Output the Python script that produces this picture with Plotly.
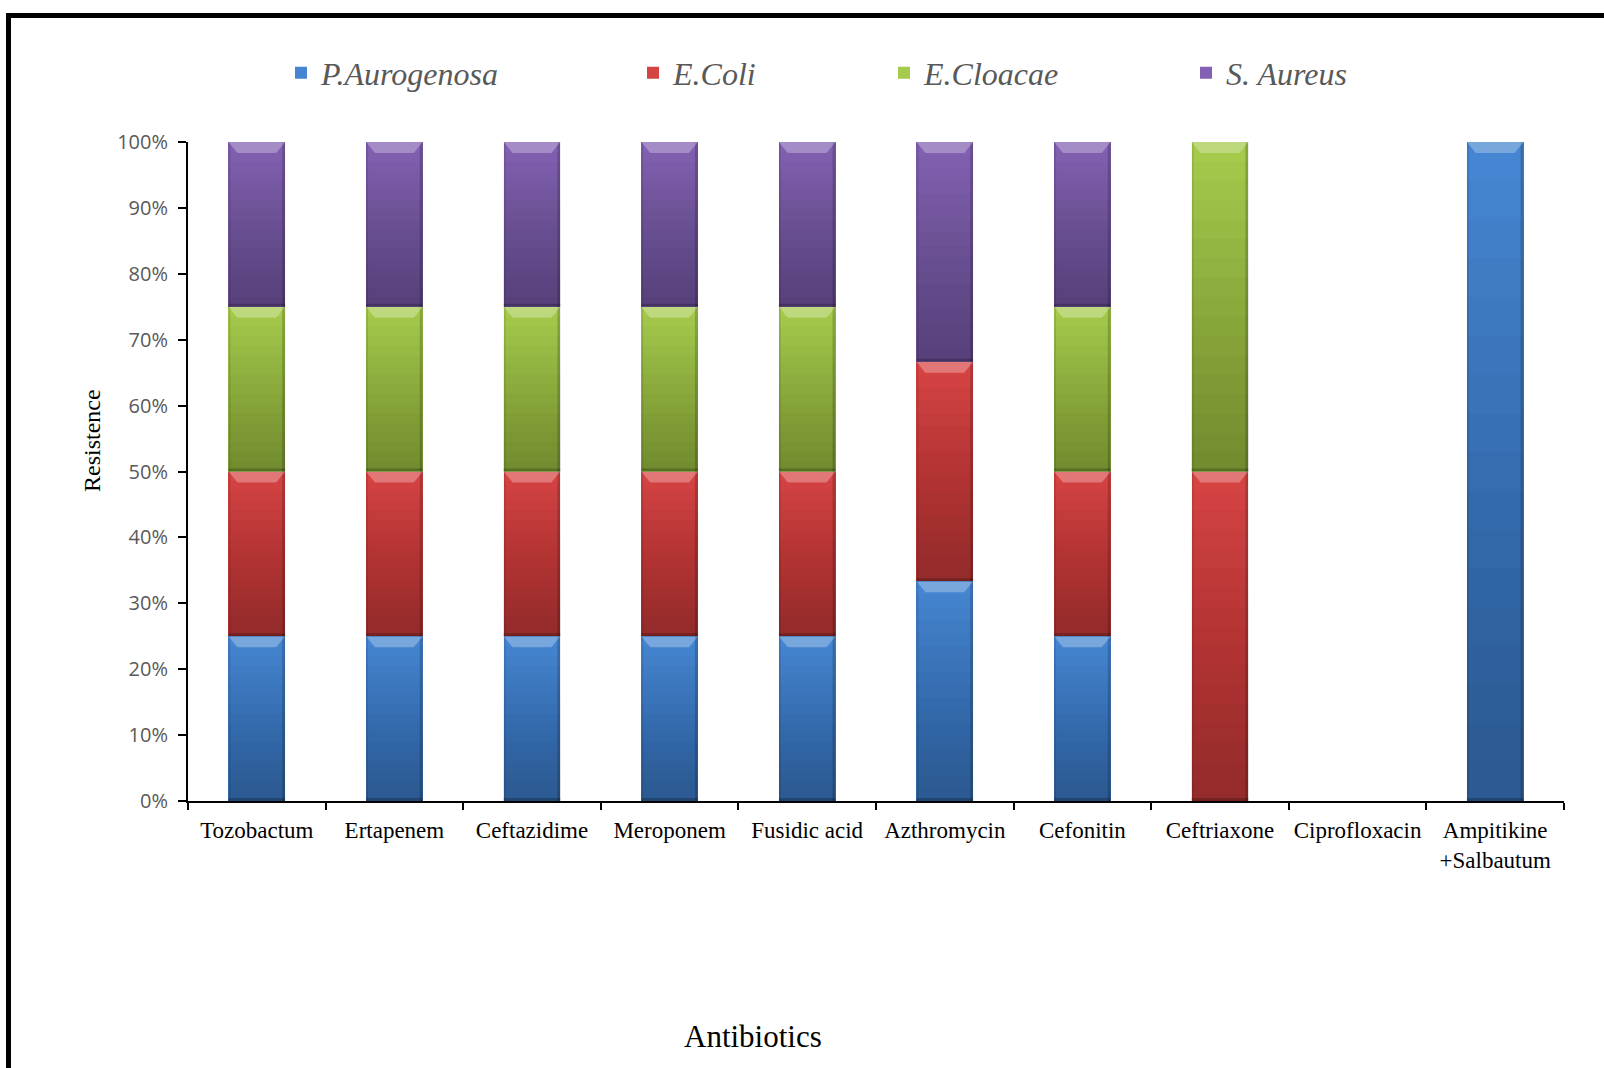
import plotly.graph_objects as go

# Resistance share (%) of each organism for each antibiotic
antibiotics = ["Tozobactum", "Ertapenem", "Ceftazidime", "Meroponem", "Fusidic acid",
               "Azthromycin", "Cefonitin", "Ceftriaxone", "Ciprofloxacin",
               "Ampitikine<br>+Salbautum"]
p_aurogenosa = [25, 25, 25, 25, 25, 33.33, 25, 0, 0, 100]
e_coli = [25, 25, 25, 25, 25, 33.33, 25, 50, 0, 0]
e_cloacae = [25, 25, 25, 25, 25, 0, 25, 50, 0, 0]
s_aureus = [25, 25, 25, 25, 25, 33.34, 25, 0, 0, 0]
series_names = ["P.Aurogenosa", "E.Coli", "E.Cloacae", "S. Aureus"]
y_ticks = [0, 10, 20, 30, 40, 50, 60, 70, 80, 90, 100]

series_values = [p_aurogenosa, e_coli, e_cloacae, s_aureus]
colors = ["#4585D2", "#D64343", "#A6CA4C", "#8260B2"]

W, H = 1604, 1068
ML, MR, MT, MB = 188, 40, 142, 267
PW, PH = W - ML - MR, H - MT - MB
BARGAP = 0.588
half_w = (1 - BARGAP) / 2
px_x = len(antibiotics) / PW          # data units per pixel (x)
px_y = 100 / PH                       # data units per pixel (y)

fig = go.Figure()
legend_ids = ["legend", "legend2", "legend3", "legend4"]
for name, vals, col, lg in zip(series_names, series_values, colors, legend_ids):
    fig.add_trace(go.Bar(
        x=list(range(len(antibiotics))), y=vals, name=name,
        marker=dict(color=col, line=dict(width=0)),
        legend=lg,
    ))

# Bevel-style shading on every stacked segment
shapes = []
base = [0.0] * len(antibiotics)
n_layers = 16
for vals in series_values:
    for i, v in enumerate(vals):
        if v <= 0:
            continue
        y0, y1 = base[i], base[i] + v
        base[i] = y1
        xa, xb = i - half_w, i + half_w
        # vertical darkening toward the bottom of the segment
        for k in range(1, n_layers + 1):
            shapes.append(dict(type="rect", xref="x", yref="y", layer="above",
                               x0=xa, x1=xb, y0=y0, y1=y0 + (y1 - y0) * k / (n_layers + 1),
                               fillcolor="rgba(0,0,0,0.018)", line=dict(width=0)))
        # right edge shade
        shapes.append(dict(type="rect", xref="x", yref="y", layer="above",
                           x0=xb - 3 * px_x, x1=xb, y0=y0, y1=y1,
                           fillcolor="rgba(0,0,0,0.18)", line=dict(width=0)))
        # left edge shade
        shapes.append(dict(type="rect", xref="x", yref="y", layer="above",
                           x0=xa, x1=xa + 2 * px_x, y0=y0, y1=y1,
                           fillcolor="rgba(0,0,0,0.10)", line=dict(width=0)))
        # bottom edge shade
        shapes.append(dict(type="rect", xref="x", yref="y", layer="above",
                           x0=xa, x1=xb, y0=y0, y1=y0 + 3 * px_y,
                           fillcolor="rgba(0,0,0,0.22)", line=dict(width=0)))
        # top highlight trapezoid
        dx, dy = 9 * px_x, 11 * px_y
        path = (f"M {xa} {y1} L {xb} {y1} L {xb - dx} {y1 - dy} "
                f"L {xa + dx} {y1 - dy} Z")
        shapes.append(dict(type="path", xref="x", yref="y", layer="above",
                           path=path, fillcolor="rgba(255,255,255,0.28)",
                           line=dict(width=0)))


def to_paper_x(px):
    return (px - ML) / PW


def to_paper_y(py):
    return (H - MB - py) / PH


# Outer frame
shapes.append(dict(type="rect", xref="paper", yref="paper", layer="above",
                   x0=to_paper_x(8.5), x1=to_paper_x(1640),
                   y0=to_paper_y(1100), y1=to_paper_y(15.5),
                   line=dict(color="black", width=5), fillcolor="rgba(0,0,0,0)"))

legend_font = dict(family="Liberation Serif", size=32, color="#595959", style="italic")
legend_text_x = [321, 673, 924, 1226]
legend_cfg = {}
for lg, tx in zip(legend_ids, legend_text_x):
    legend_cfg[lg] = dict(x=to_paper_x(tx - 40), y=to_paper_y(73),
                          xanchor="left", yanchor="middle", orientation="h",
                          font=legend_font, bgcolor="rgba(0,0,0,0)", borderwidth=0)

fig.update_layout(
    width=W, height=H,
    margin=dict(l=ML, r=MR, t=MT, b=MB),
    paper_bgcolor="white", plot_bgcolor="white",
    barmode="stack", bargap=BARGAP,
    showlegend=True,
    shapes=shapes,
    **legend_cfg,
    annotations=[
        dict(text="Resistence", xref="paper", yref="paper",
             x=to_paper_x(92), y=to_paper_y(441), textangle=-90,
             xanchor="center", yanchor="middle",
             showarrow=False, font=dict(family="Liberation Serif", size=24, color="black")),
        dict(text="Antibiotics", xref="paper", yref="paper",
             x=to_paper_x(753), y=to_paper_y(1036),
             xanchor="center", yanchor="middle",
             showarrow=False, font=dict(family="Liberation Serif", size=31, color="black")),
    ],
)

fig.update_xaxes(
    type="linear", range=[-0.5, len(antibiotics) - 0.5],
    tickmode="array", tickvals=list(range(len(antibiotics))), ticktext=antibiotics,
    ticks="", showline=True, linecolor="black", linewidth=2,
    showgrid=False, zeroline=False,
    tickfont=dict(family="Liberation Serif", size=23, color="black"),
    ticklabelstandoff=7,
    minor=dict(tickmode="array", tickvals=[i - 0.5 for i in range(len(antibiotics) + 1)],
               ticks="outside", ticklen=7, tickwidth=2, tickcolor="black", showgrid=False),
)
fig.update_yaxes(
    range=[0, 100], tickmode="array", tickvals=y_ticks,
    ticktext=[f"{v}%" for v in y_ticks],
    ticks="outside", ticklen=8, tickwidth=2, tickcolor="black",
    showline=True, linecolor="black", linewidth=2,
    showgrid=False, zeroline=False,
    tickfont=dict(family="Open Sans", size=20, color="#595959"),
    ticklabelstandoff=6,
)

fig.write_html("out.html")
